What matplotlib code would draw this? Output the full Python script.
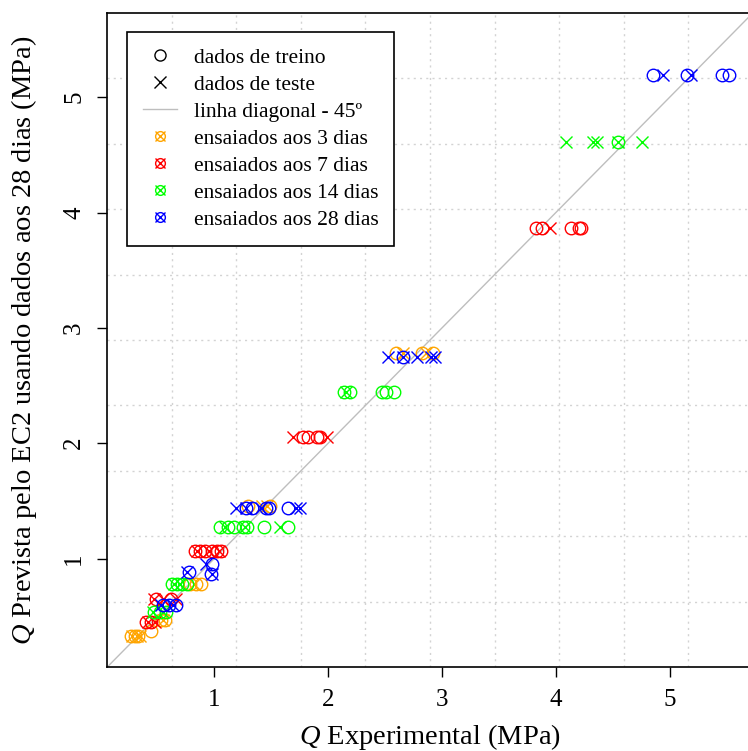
import matplotlib
matplotlib.use("Agg")
import matplotlib.pyplot as plt
from matplotlib.lines import Line2D
from matplotlib.legend_handler import HandlerTuple
import numpy as np

plt.rcParams["font.family"] = ["Liberation Serif", "DejaVu Serif"]
plt.rcParams["mathtext.fontset"] = "custom"
plt.rcParams["mathtext.it"] = "Liberation Serif:italic"
plt.rcParams["mathtext.rm"] = "Liberation Serif"

# ensaiados aos 3 dias
d3_train_x = [0.27, 0.30, 0.33, 0.44, 0.53, 0.57, 0.79, 0.84, 0.88, 1.30, 1.49, 2.60, 2.82, 2.92]
d3_train_y = [0.33, 0.33, 0.33, 0.37, 0.47, 0.47, 0.78, 0.78, 0.78, 1.46, 1.46, 2.78, 2.78, 2.78]
d3_test_x = [0.28, 0.32, 0.35, 0.55, 0.82, 1.42, 1.46, 2.66, 2.86]
d3_test_y = [0.33, 0.33, 0.33, 0.47, 0.78, 1.46, 1.46, 2.78, 2.78]

# ensaiados aos 7 dias
d7_train_x = [0.40, 0.44, 0.49, 0.62, 0.83, 0.87, 0.92, 0.98, 1.02, 1.06,
              1.78, 1.82, 1.90, 1.93, 3.83, 3.88, 4.13, 4.20, 4.22]
d7_train_y = [0.45, 0.45, 0.65, 0.65, 1.07, 1.07, 1.07, 1.07, 1.07, 1.07,
              2.05, 2.05, 2.05, 2.05, 3.87, 3.87, 3.87, 3.87, 3.87]
d7_test_x = [0.42, 0.48, 0.47, 0.55, 0.66, 0.85, 0.95, 1.04, 1.69, 1.99, 3.95]
d7_test_y = [0.45, 0.45, 0.65, 0.65, 0.65, 1.07, 1.07, 1.07, 2.05, 2.05, 3.87]

# ensaiados aos 14 dias
d14_train_x = [0.47, 0.52, 0.58, 0.63, 0.67, 0.72, 0.76, 1.05, 1.12, 1.17, 1.25, 1.29,
               1.44, 1.65, 2.14, 2.19, 2.47, 2.51, 2.58, 4.55]
d14_train_y = [0.54, 0.54, 0.54, 0.78, 0.78, 0.78, 0.78, 1.27, 1.27, 1.27, 1.27, 1.27,
               1.27, 1.27, 2.44, 2.44, 2.44, 2.44, 2.44, 4.61]
d14_test_x = [0.46, 0.55, 0.65, 0.70, 1.09, 1.27, 1.58, 2.16, 4.09, 4.33, 4.36, 4.55, 4.76]
d14_test_y = [0.54, 0.54, 0.78, 0.78, 1.27, 1.27, 1.27, 2.44, 4.61, 4.61, 4.61, 4.61, 4.61]

# ensaiados aos 28 dias
d28_train_x = [0.55, 0.60, 0.66, 0.78, 0.98, 0.97, 1.28, 1.33, 1.45, 1.48, 1.65,
               2.66, 4.85, 5.15, 5.46, 5.52]
d28_train_y = [0.60, 0.60, 0.60, 0.88, 0.95, 0.87, 1.44, 1.44, 1.44, 1.44, 1.44,
               2.75, 5.19, 5.19, 5.19, 5.19]
d28_test_x = [0.53, 0.64, 0.76, 0.93, 0.98, 1.19, 1.28, 1.41, 1.72, 1.75,
              2.53, 2.66, 2.78, 2.90, 2.94, 4.94, 5.19]
d28_test_y = [0.60, 0.60, 0.88, 0.95, 0.87, 1.44, 1.44, 1.44, 1.44, 1.44,
              2.75, 2.75, 2.75, 2.75, 2.75, 5.19, 5.19]

groups = [
    ("ensaiados aos 3 dias", "#FFA500", d3_train_x, d3_train_y, d3_test_x, d3_test_y),
    ("ensaiados aos 7 dias", "#FF0000", d7_train_x, d7_train_y, d7_test_x, d7_test_y),
    ("ensaiados aos 14 dias", "#00FF00", d14_train_x, d14_train_y, d14_test_x, d14_test_y),
    ("ensaiados aos 28 dias", "#0000FF", d28_train_x, d28_train_y, d28_test_x, d28_test_y),
]

fig = plt.figure(figsize=(7.48, 7.51), dpi=100)
ax = fig.add_axes([107.3 / 748, 84 / 751, 645.5 / 748, 654 / 751])

all_x = np.concatenate([g[2] + g[4] for g in groups])
all_y = np.concatenate([g[3] + g[5] for g in groups])
lo = min(all_x.min(), all_y.min())
hi = max(all_x.max(), all_y.max())
pad = 0.04 * (hi - lo)
lim = (lo - pad, hi + pad)
ax.set_xlim(lim)
ax.set_ylim(lim)

# R style grid(10, 10)
for v in np.linspace(lim[0], lim[1], 11)[1:-1]:
    ax.axvline(v, color="#D3D3D3", lw=1, ls=(0, (1.5, 3)), zorder=0)
    ax.axhline(v, color="#D3D3D3", lw=1, ls=(0, (1.5, 3)), zorder=0)

ax.axline((0, 0), slope=1, color="#BEBEBE", lw=1, zorder=1)

ms = 9
for name, col, trx, tr_y, tex, tey in groups:
    ax.plot(trx, tr_y, ls="none", marker="o", mfc="none", mec=col, ms=ms, mew=1, zorder=2)
    ax.plot(tex, tey, ls="none", marker="x", color=col, ms=ms, mew=1, zorder=2)

ax.set_xticks([1, 2, 3, 4, 5])
ax.set_yticks([1, 2, 3, 4, 5])
ax.tick_params(direction="out", length=7, width=1, labelsize=18, pad=9)
for lab in ax.get_yticklabels():
    lab.set_rotation(90)
    lab.set_va("center")
for s in ax.spines.values():
    s.set_linewidth(1.2)

ax.set_xlabel(r"$Q$ Experimental (MPa)", fontsize=20.5, labelpad=8)
ax.set_ylabel(r"$Q$ Prevista pelo EC2 usando dados aos 28 dias (MPa)", fontsize=20.5, labelpad=17)

handles = [
    Line2D([], [], ls="none", marker="o", mfc="none", mec="black", ms=8, mew=1),
    Line2D([], [], ls="none", marker="x", color="black", ms=8, mew=1),
    Line2D([], [], color="#BEBEBE", lw=1),
]
labels = ["dados de treino", "dados de teste", "linha diagonal - 45º"]
for name, col, *_ in groups:
    handles.append((Line2D([], [], ls="none", marker="o", mfc="none", mec=col, ms=7, mew=1),
                    Line2D([], [], ls="none", marker="x", color=col, ms=7, mew=1)))
    labels.append(name)

leg = ax.legend(handles, labels, loc="upper left", bbox_to_anchor=(0.0305, 0.971),
                borderaxespad=0, fontsize=15.5, frameon=True, fancybox=False,
                edgecolor="black", framealpha=1, labelspacing=0.32,
                handlelength=1.6, handletextpad=0.75, borderpad=0.74,
                handler_map={tuple: HandlerTuple(ndivide=1)})
leg.get_frame().set_linewidth(1.2)

fig.savefig("out.png", dpi=100)
